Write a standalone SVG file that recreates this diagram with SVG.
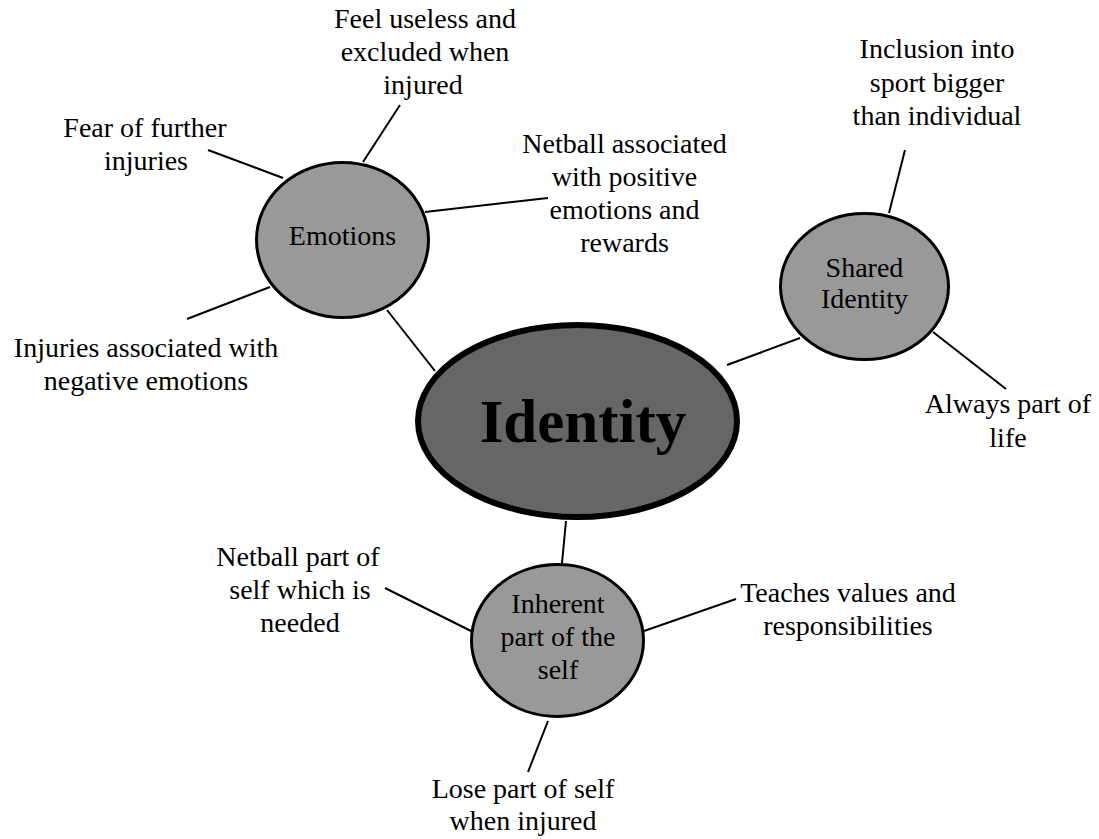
<svg xmlns="http://www.w3.org/2000/svg" width="1099" height="839" viewBox="0 0 1099 839">
<style>
.t{font-family:"Liberation Serif","Times New Roman",serif;font-size:28px;fill:#000;text-anchor:middle}
.big{font-family:"Liberation Serif","Times New Roman",serif;font-size:61px;font-weight:bold;fill:#000;text-anchor:middle}
.sub{fill:#999999;stroke:#000;stroke-width:3}
.main{fill:#666666;stroke:#000;stroke-width:6}
.c line{stroke:#000;stroke-width:2}
</style>
<rect width="1099" height="839" fill="#fff"/>
<g class="c" id="connectors">
<line x1="387" y1="310" x2="435" y2="371"/>
<line x1="727" y1="365" x2="800" y2="338"/>
<line x1="566" y1="521" x2="562" y2="563"/>
<line x1="208" y1="150" x2="283" y2="178"/>
<line x1="400" y1="105" x2="363" y2="162"/>
<line x1="425" y1="212" x2="548" y2="198"/>
<line x1="187" y1="319" x2="270" y2="287"/>
<line x1="905" y1="150" x2="889" y2="213"/>
<line x1="933" y1="332" x2="1006" y2="389"/>
<line x1="385" y1="588" x2="471" y2="631"/>
<line x1="644" y1="631" x2="736" y2="599"/>
<line x1="548" y1="721" x2="528" y2="772"/>
</g>
<g id="identity">
<ellipse class="main" cx="577.5" cy="421" rx="159.5" ry="96"/>
<text class="big" x="583" y="442">Identity</text>
</g>
<g id="emotions">
<ellipse class="sub" cx="342.5" cy="240" rx="86" ry="77.5"/>
<text class="t" x="342.5" y="245">Emotions</text>
</g>
<g id="shared-identity">
<ellipse class="sub" cx="864.5" cy="286.5" rx="84" ry="73"/>
<text class="t" x="864.5" y="277">Shared</text>
<text class="t" x="864.5" y="308">Identity</text>
</g>
<g id="inherent">
<ellipse class="sub" cx="557.5" cy="640.5" rx="86" ry="76"/>
<text class="t" x="558" y="613">Inherent</text>
<text class="t" x="558" y="646">part of the</text>
<text class="t" x="558" y="679">self</text>
</g>
<g id="label-feel-useless">
<text class="t" x="425" y="28">Feel useless and</text>
<text class="t" x="425" y="61">excluded when</text>
<text class="t" x="423" y="94">injured</text>
</g>
<g id="label-fear">
<text class="t" x="145" y="137">Fear of further</text>
<text class="t" x="146" y="170">injuries</text>
</g>
<g id="label-netball-positive">
<text class="t" x="624.5" y="153">Netball associated</text>
<text class="t" x="624.5" y="186">with positive</text>
<text class="t" x="624.5" y="219">emotions and</text>
<text class="t" x="624.5" y="252">rewards</text>
</g>
<g id="label-injuries-negative">
<text class="t" x="146" y="357">Injuries associated with</text>
<text class="t" x="146" y="390">negative emotions</text>
</g>
<g id="label-inclusion">
<text class="t" x="937" y="58">Inclusion into</text>
<text class="t" x="937" y="92">sport bigger</text>
<text class="t" x="937" y="125">than individual</text>
</g>
<g id="label-always">
<text class="t" x="1008" y="413">Always part of</text>
<text class="t" x="1008" y="447">life</text>
</g>
<g id="label-netball-self">
<text class="t" x="298" y="566">Netball part of</text>
<text class="t" x="300" y="599">self which is</text>
<text class="t" x="300" y="632">needed</text>
</g>
<g id="label-teaches">
<text class="t" x="848" y="602">Teaches values and</text>
<text class="t" x="848" y="635">responsibilities</text>
</g>
<g id="label-lose">
<text class="t" x="523" y="798">Lose part of self</text>
<text class="t" x="523" y="830">when injured</text>
</g>
</svg>
